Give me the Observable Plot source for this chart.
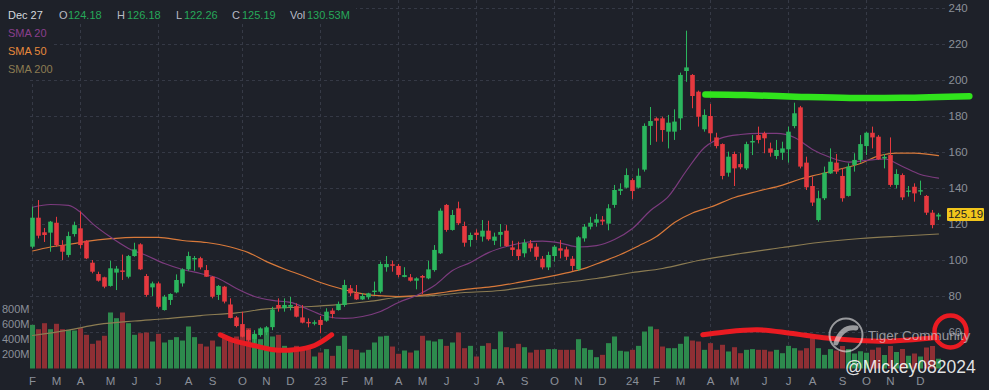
<!DOCTYPE html>
<html><head><meta charset="utf-8">
<script src="https://cdn.jsdelivr.net/npm/d3@7"></script>
<script src="https://cdn.jsdelivr.net/npm/@observablehq/plot@0.6"></script>
<style>
html,body{margin:0;padding:0;background:#1e2129;}
#wrap{position:relative;width:989px;height:390px;background:#1e2129;overflow:hidden;font-family:"Liberation Sans",Arial,sans-serif;}
#wrap > svg{position:absolute;left:0;top:0;}
.t{position:absolute;white-space:nowrap;line-height:1;font-size:11px;}
.blk{position:absolute;background:#1e2129;}
</style></head><body><div id="wrap"></div>
<script>
// ---- data (weekly candles, first week ending 2022-02-04) ----
const startDate = "2022-02-04";
const opens = [107.4,123.5,115.4,115.2,120.7,108.3,102.8,114.4,117.6,110.7,
98.5,92.2,90.4,85.6,93,94.2,90.7,102.2,108.7,91.1,
84.8,87,72.2,77.8,82,87,94.8,100.3,101,94.4,
90.7,80.6,85.2,75.3,68.1,64.4,61.1,56,58.3,59.6,
62.7,75,73.2,74,74.4,68.1,65.6,64.6,66.7,66.3,
71.9,72.2,75,84.3,81.5,78.1,79.3,82.2,82.4,96,
97.6,96.7,90.6,90.4,88.5,91.1,89.8,94.4,103.7,130.6,
116.7,128.7,118.9,111.1,115.2,113,116.3,110.7,114,116.3,
107,105.9,103.7,109.3,107.4,100.7,95.9,102.2,106.5,105.9,
100.7,94.8,112,118.5,120.7,122.4,120.2,130.6,138.4,140.2,
144.4,140.2,150.2,174.5,178.7,178.7,171.3,171.3,178.7,205,
202.8,193.5,172.6,180,168.1,164.4,148.5,158.9,153.3,150.9,
165.3,169.4,170.4,162,157.8,159.6,161.5,174.4,184.8,154.1,
141.1,122.2,134.3,148.1,154.1,146.7,135.6,152.8,155.6,163.3,
170.7,168.5,156.4,158.3,141.7,147.2,137.8,140.7,138,135.6,
126.3,124.18];
const highs = [129.6,133.3,117.8,121.7,124,111,115.7,121.3,127,111,
100,93.5,90.7,99.6,96.7,103,102.8,109.6,109.3,92.2,
88,88,80.6,81.5,92,95.4,104.6,102.2,101.8,97.2,
91.1,86.1,85.6,78.7,68.9,71.3,61.5,61,62.6,63.3,
74,78.7,78.7,79.5,75.9,75,67.6,66.5,68.9,73.2,
73.2,76.9,89,86.1,86.1,81.5,81.8,88,99.1,102.2,
99.6,97.8,96,92.2,90.4,91.7,99.6,108.3,128.7,131.1,
127.8,132.4,121.3,115.2,117,122.2,121.8,115.2,120,119.4,
110.7,110.2,111.5,111.1,109.3,102.2,104.6,108.3,111.1,107.4,
102.2,113.3,120,124,125.6,124.4,131,141.7,142.6,150.9,
145.4,150.9,175.9,185,179.3,179.6,180.6,183.7,204.1,227.4,
203.3,194.1,183.7,186.7,170.7,164.8,160.2,160.2,159.3,165.7,
169.4,174.1,171.3,165.2,166.7,165.7,174.1,187.4,185.6,157.4,
146.3,138.5,151.9,162,158.9,150.9,153.7,159.3,169.4,171.3,
174.1,169.4,158.9,168.1,150.4,148.1,141.1,142.6,144.1,136.1,
127.8,126.18];
const lows = [106.5,112,110,104.6,107.4,100,101.5,113,106.5,100.5,
92.6,88,84.3,85.2,83.3,88.9,89.8,101.8,94.4,79.6,
80,73.2,71.9,75,81.5,85.2,94,94,94.8,90.7,
78.7,77.8,75.9,67.6,62.6,57,54.6,53.7,57.4,58.3,
61,71.3,71.3,72,68.1,64.8,62.6,63.7,59.3,65.7,
67.6,71.9,74,80,77.8,77.8,78.1,80.6,81.5,93.5,
93.5,90.4,90.4,88,83.7,81.1,89.3,93.5,103.3,115.7,
116.3,119.4,107.4,107.4,111.1,110.2,110.7,108.3,107.4,107.4,
102.2,100,101.5,104.6,100,94.8,94.4,99.1,100.9,100,
94,94,110.2,117,118.5,119.4,116.5,129,136.1,139.8,
133.9,139.8,149.1,163.9,165.7,165.7,162,166.7,172.2,199,
184.3,174.1,171.3,165.7,162,144.8,146.3,141.1,150.4,150,
158.3,164.8,159.3,157.4,156,155.6,154.1,173.2,150.9,138.9,
130,121.3,133.3,147.8,147.8,132.4,135.2,149.1,154.1,158.3,
162,155.6,150.9,140.7,139.8,133.3,135.2,132.4,136.1,125,
117.6,122.26];
const closes = [123.5,113.5,113.9,121.3,108.3,104.6,113.3,119.4,108.3,100.9,
93.5,88.5,85.2,95.4,95.2,93.4,102.2,105.9,94.8,80.6,
87,74,79.6,81.1,88.9,94.8,102.2,101.1,95.9,90.7,
79.6,85.6,76.9,67.8,63.3,57.4,55.6,59,62,62.6,
72.5,73.2,75,75,68.5,65.2,64.8,65.4,63.9,71.3,
70,75.6,86.1,81.5,78.1,80,81.5,83,97.8,97.8,
96.8,91.7,91.6,88.5,89.8,90.2,94.8,105.6,127.4,116.7,
125,120.4,109.6,113.9,113.9,116.3,111.5,113,115.6,107.8,
105.6,102.2,109.6,106.5,101.8,95.9,102.8,107.4,105.2,101.8,
96.7,112.6,118.5,120.7,122.6,121.4,128.7,138.9,139.4,147.2,
138.3,146.8,174.5,177.2,177.4,172.2,176.3,176.9,202.8,207,
191.1,179.6,180.6,170.4,163.3,146.7,157.4,150.9,151.5,164.4,
166.1,166.7,167.6,159.6,161.1,162,171.3,181.5,151.9,140.4,
131.9,134.3,148.5,154.6,149.1,134.3,151.9,155.6,164.4,170.7,
168.1,155.9,157.3,141.7,147.8,134.8,138.6,137,138.8,126.3,
119.4,125.19];
// weekly volume, millions
const volumes = [582,524,604,524,596,524,516,507,538,449,
329,373,436,747,671,747,604,449,471,480,
360,462,347,382,418,373,560,418,329,293,
373,293,427,382,427,493,538,449,391,480,
427,449,302,249,302,271,258,160,213,258,
169,302,436,258,249,213,249,347,427,436,
293,196,240,213,240,436,373,360,391,302,
347,480,271,302,160,302,338,258,493,284,
271,329,284,213,249,249,258,258,249,249,
249,391,271,249,151,182,338,427,236,227,
249,302,493,560,524,293,271,271,329,427,
373,360,249,338,249,316,227,284,204,249,
258,249,249,227,249,204,302,271,240,271,
449,271,182,258,240,300,260,200,230,210,
250,280,180,300,220,260,170,200,160,280,
300,130.53];
const sma20 = [["2022-02-04",129.6],["2022-02-25",131.1],["2022-03-18",130.6],["2022-04-01",126.8],["2022-04-15",120.5],["2022-05-06",113],["2022-05-27",106.7],["2022-06-17",102.8],["2022-07-08",98.3],["2022-07-29",95],["2022-08-19",92.8],["2022-09-09",90],["2022-09-30",84.4],["2022-10-21",80],["2022-11-11",77.8],["2022-12-02",76.7],["2022-12-23",72.8],["2023-01-13",68.9],["2023-02-03",67.8],["2023-02-24",68.9],["2023-03-17",71.7],["2023-04-07",76.7],["2023-04-28",80.6],["2023-05-19",86.1],["2023-06-09",94.4],["2023-06-30",98.9],["2023-07-21",104.4],["2023-08-11",107.8],["2023-09-01",110],["2023-09-22",110.8],["2023-10-13",109.7],["2023-11-03",107.5],["2023-11-24",108.3],["2023-12-15",111.7],["2024-01-05",117.8],["2024-01-26",127.8],["2024-02-16",135.6],["2024-03-08",150],["2024-03-29",162.8],["2024-04-19",168.3],["2024-05-10",170],["2024-05-31",170.6],["2024-06-21",170.6],["2024-07-12",168.3],["2024-08-02",161.7],["2024-08-23",157.2],["2024-09-13",154.7],["2024-10-04",155.6],["2024-10-25",156.4],["2024-11-15",152.2],["2024-12-06",147.8],["2024-12-27",145.8]];
const sma50 = [["2022-02-04",105.3],["2022-02-25",107.5],["2022-03-18",108.9],["2022-04-08",110.6],["2022-05-06",112.1],["2022-06-03",112.9],["2022-07-01",112.8],["2022-07-29",111.1],["2022-08-26",110],["2022-09-23",107.5],["2022-10-14",104.4],["2022-11-04",99.4],["2022-11-25",95.3],["2022-12-16",91.7],["2023-01-06",87.8],["2023-01-27",84.7],["2023-02-17",82.2],["2023-03-10",80.6],["2023-04-07",80],["2023-05-05",80.8],["2023-06-02",82.5],["2023-06-30",84.2],["2023-07-28",85.6],["2023-08-25",87.8],["2023-09-22",90.3],["2023-10-20",93.1],["2023-11-10",95.6],["2023-12-01",99.4],["2023-12-22",103.3],["2024-01-12",108.1],["2024-02-02",113.3],["2024-02-23",121.1],["2024-03-15",126.4],["2024-04-05",129.7],["2024-05-03",135],["2024-05-31",138.6],["2024-06-28",141.9],["2024-07-19",145.3],["2024-08-09",147.8],["2024-08-30",150.3],["2024-09-27",153.9],["2024-10-18",158.1],["2024-11-08",159.7],["2024-11-29",159.7],["2024-12-27",158.3]];
const sma200 = [["2022-02-04",58.3],["2022-03-18",61.3],["2022-04-22",64.5],["2022-06-03",66.4],["2022-07-08",67.6],["2022-08-19",69.4],["2022-09-30",70.9],["2022-11-04",73.1],["2022-12-16",74.2],["2023-01-20",75.2],["2023-03-03",77.2],["2023-04-07",79.6],["2023-05-19",80.6],["2023-06-23",82.2],["2023-08-04",83.3],["2023-09-08",85.6],["2023-10-20",87.9],["2023-11-24",90],["2024-01-05",93.3],["2024-02-09",95.6],["2024-03-22",100],["2024-05-10",103.9],["2024-06-28",107.2],["2024-08-09",110],["2024-09-27",112.2],["2024-11-15",113.6],["2024-12-27",114.7]];
// hand-drawn annotations (date, price)
const greenStroke = [["2024-03-30",192.2],["2024-05-15",191.9],["2024-07-20",190.9],["2024-09-15",190.3],["2024-11-15",190.4],["2025-02-01",191.3]];
const redStroke1 = [["2022-09-11",58.7],["2022-09-26",55.6],["2022-10-20",52.8],["2022-11-12",50.4],["2022-12-06",50.4],["2022-12-30",52.8],["2023-01-19",58.7]];
const redStroke2 = [["2024-03-27",58.7],["2024-04-20",60.2],["2024-05-30",61.5],["2024-07-07",59.6],["2024-08-15",57.1],["2024-09-24",55.6],["2024-11-01",55.2],["2024-12-09",56.5],["2024-12-25",57.4]];
const redCircle = [["2025-01-10",60.6]];
const priceTicks = [60,80,100,120,140,160,180,200,220,240];
const volumeTicks = [200,400,600,800];
const monthLetters = ["J","F","M","A","M","J","J","A","S","O","N","D"];
const legend = [["SMA 20","#8a3f8c"],["SMA 50","#e8893c"],["SMA 200","#8c7c52"]];

// ---- derived ----
const dates = opens.map((_, i) => d3.utcDay.offset(new Date(startDate), 7 * i));
const rows = dates.map((date, i) => ({date, open: opens[i], high: highs[i], low: lows[i], close: closes[i], vol: volumes[i], up: closes[i] >= opens[i]}));
const monthTicks = dates.filter((d, i) => i === 0 || d.getUTCMonth() !== dates[i - 1].getUTCMonth());
const gridTicks = [dates[0], ...monthTicks.filter(d => d.getUTCMonth() % 3 === 0)];
const fmtMonth = d => d.getUTCMonth() === 0 ? String(d.getUTCFullYear()).slice(2) : monthLetters[d.getUTCMonth()];
const pts = a => a.map(([d, v]) => ({date: new Date(d), value: v}));

const FONT = "'Liberation Sans', Arial, sans-serif";
const W = 989, H = 390;
const X = {type: "utc", domain: [dates[0], dates[dates.length - 1]], range: [32, 938]};
const Y = {domain: [40, 244.444], range: [368, 0]};
const base = {width: W, height: H, marginTop: 0, marginBottom: 22, marginLeft: 30, marginRight: 41,
  color: {type: "identity"},
  style: {background: "transparent", color: "#8b9099", fontFamily: FONT, fontSize: "11.5px", overflow: "visible"}};
const GRID = "#363a46";
const UP = "#2bb55d", DOWN = "#e5393f", VUP = "#2d8a4d", VDOWN = "#8f2f34";

const wrap = document.getElementById("wrap");

// layer 1: grid + axes
const p1 = Plot.plot({...base, x: {...X, axis: null}, y: {...Y, axis: null}, marks: [
  Plot.gridY(priceTicks, {stroke: GRID, strokeOpacity: 1, strokeDasharray: "3,3"}),
  Plot.gridX(gridTicks, {stroke: GRID, strokeOpacity: 1, strokeDasharray: "3,3"}),
  Plot.axisY(priceTicks, {anchor: "right", tickSize: 0, tickPadding: 0, label: null, fontSize: 11.5}),
  Plot.axisX(monthTicks, {tickSize: 0, tickPadding: 8, tickFormat: fmtMonth, label: null, fontSize: 11.5})
]});
wrap.appendChild(p1);

// covers behind header / legend (grid hidden there)
function block(l, t, w, h) { const b = document.createElement("div"); b.className = "blk";
  Object.assign(b.style, {left: l + "px", top: t + "px", width: w + "px", height: h + "px"}); wrap.appendChild(b); }
block(0, 0, 356, 23);
block(0, 24, 54, 56);

// layer 2: volume
const p2 = Plot.plot({...base, x: {...X, axis: null}, y: {domain: [0, 4913], range: [368.5, 0], axis: null}, marks: [
  Plot.ruleX(rows, {x: "date", y1: 0, y2: "vol", stroke: d => d.up ? VUP : VDOWN, strokeWidth: 5}),
  Plot.axisY(volumeTicks, {anchor: "left", tickSize: 0, tickPadding: 1, label: null, tickFormat: d => d + "M", fontSize: 11})
]});
wrap.appendChild(p2);

// layer 3: price marks
const p3 = Plot.plot({...base, x: {...X, axis: null}, y: {...Y, axis: null}, marks: [
  Plot.line(pts(sma200), {x: "date", y: "value", stroke: "#8c7c52", strokeWidth: 1.1, curve: "monotone-x"}),
  Plot.line(pts(sma50), {x: "date", y: "value", stroke: "#d8793a", strokeWidth: 1.2, curve: "monotone-x"}),
  Plot.line(pts(sma20), {x: "date", y: "value", stroke: "#7c3b7e", strokeWidth: 1.2, curve: "monotone-x"}),
  Plot.ruleX(rows, {x: "date", y1: "low", y2: "high", stroke: d => d.up ? UP : DOWN, strokeWidth: 1}),
  Plot.ruleX(rows, {x: "date", y1: "open", y2: "close", stroke: d => d.up ? UP : DOWN, strokeWidth: 4.6}),
  Plot.line(pts(greenStroke), {x: "date", y: "value", stroke: "#30e31c", strokeWidth: 6.5, strokeLinecap: "round", curve: "catmull-rom"}),
  Plot.line(pts(redStroke1), {x: "date", y: "value", stroke: "#ea1b22", strokeWidth: 5, strokeLinecap: "round", curve: "catmull-rom"}),
  Plot.line(pts(redStroke2), {x: "date", y: "value", stroke: "#ea1b22", strokeWidth: 5, strokeLinecap: "round", curve: "catmull-rom"}),
  Plot.dot(pts(redCircle), {x: "date", y: "value", r: 16, stroke: "#ea1b22", strokeWidth: 4.5, fill: "none"})
]});
wrap.appendChild(p3);

// header
const last = rows[rows.length - 1];
const G = "#26a85a", L = "#b8bcc5";
function addText(txt, left, top, color, size, extra) {
  const s = document.createElement("div");
  s.className = "t"; s.textContent = txt;
  s.style.left = left + "px"; s.style.top = top + "px"; s.style.color = color;
  if (size) s.style.fontSize = size + "px";
  if (extra) Object.assign(s.style, extra);
  wrap.appendChild(s);
  return s;
}
addText(d3.utcFormat("%b %-d")(last.date), 8, 10, "#d4d7de");
addText("O", 59, 10, L); addText(last.open.toFixed(2), 68, 10, G);
addText("H", 117, 10, L); addText(last.high.toFixed(2), 127, 10, G);
addText("L", 176, 10, L); addText(last.low.toFixed(2), 184, 10, G);
addText("C", 232, 10, L); addText(last.close.toFixed(2), 242, 10, G);
addText("Vol", 290, 10, L); addText(last.vol.toFixed(2) + "M", 307, 10, G);
legend.forEach(([name, col], i) => addText(name, 8, 28 + i * 18, col));

// last price tag on the right axis
const yPix = p3.scale("y").apply(last.close);
addText(last.close.toFixed(2), 947, yPix - 6.5, "#1b1d22", 11.5,
  {background: "#f2c61c", width: "37px", height: "13px", lineHeight: "13px", textAlign: "center", borderRadius: "1px"});

// watermark
const ns = "http://www.w3.org/2000/svg";
const wm = document.createElementNS(ns, "svg");
wm.setAttribute("width", W); wm.setAttribute("height", H);
wm.innerHTML = '<circle cx="846" cy="335" r="16.5" fill="none" stroke="rgba(235,235,235,0.6)" stroke-width="2"/>' +
  '<path d="M836 343 Q842 326 856 328" fill="none" stroke="rgba(235,235,235,0.6)" stroke-width="5" stroke-linecap="round"/>';
wrap.appendChild(wm);
addText("Tiger Community", 868, 329, "rgba(225,225,228,0.62)", 13.5);
addText("@Mickey082024", 845, 359, "rgba(255,255,255,0.88)", 17.5);
</script></body></html>
